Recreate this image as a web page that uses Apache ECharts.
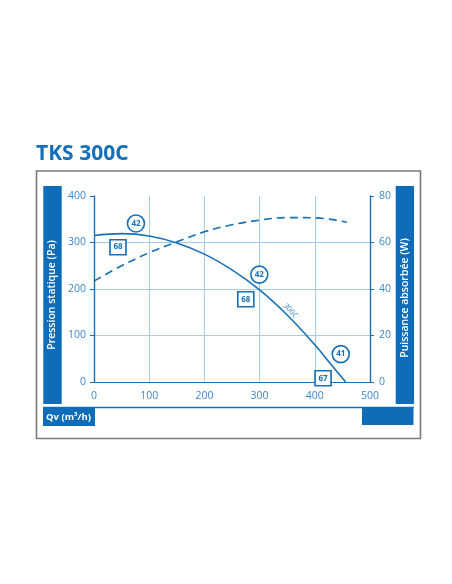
<!DOCTYPE html>
<html>
<head>
<meta charset="utf-8">
<script src="https://cdn.jsdelivr.net/npm/echarts@6/dist/echarts.min.js"></script>
<style>
html,body{margin:0;padding:0;background:#fff;}
#chart{width:452px;height:584px;}
</style>
</head>
<body>
<div id="chart"></div>
<script>
// ---- data ----
const title = 'TKS 300C';
const leftAxisName = 'Pression statique (Pa)';
const rightAxisName = 'Puissance absorbée (W)';
const xAxisName = 'Qv (m³/h)';
const curveName = '300C';

const pressureFlow = [0, 50, 100, 150, 200, 250, 300, 350, 400, 430, 456];
const pressureVals = [315, 319, 314, 299, 275, 241, 198, 144, 80, 37, 0];

const powerFlow = [0, 50, 100, 150, 200, 250, 300, 350, 400, 458];
const powerVals = [43.4, 50, 55.6, 60.3, 64.6, 67.6, 69.6, 70.7, 70.6, 68.7];

const circleFlow = [76, 299.5, 447];
const circlePressure = [341, 231, 60];
const circleLabels = ['42', '42', '41'];

const squareFlow = [43.5, 275, 415];
const squarePressure = [290, 178, 8];
const squareLabels = ['68', '68', '67'];

const curveLabelFlow = [356];
const curveLabelPressure = [153];

const xTicks = [0, 500, 100];   // min, max, interval
const yLeftTicks = [0, 400, 100];
const yRightTicks = [0, 80, 20];

// ---- styles ----
const BLUE = '#1670b8';
const BAR = '#0f6cb9';
const LABEL = '#3d88cc';
const GRID = '#a9cbe6';
const FONT = '"Open Sans", "DejaVu Sans", sans-serif';

const zip = (a, b, c) => a.map((v, i) => c ? [v, b[i], c[i]] : [v, b[i]]);

const chart = echarts.init(document.getElementById('chart'), null, {renderer: 'canvas'});

const axisLabel = {color: LABEL, fontSize: 10.5, fontFamily: FONT};

chart.setOption({
  backgroundColor: '#fff',
  animation: false,
  grid: {left: 94, right: 82, top: 196, bottom: 202},
  xAxis: {
    type: 'value', min: xTicks[0], max: xTicks[1], interval: xTicks[2],
    axisLine: {show: true, lineStyle: {color: BLUE, width: 1.2}},
    axisTick: {show: false},
    axisLabel: Object.assign({margin: 9}, axisLabel),
    splitLine: {show: true, showMinLine: false, showMaxLine: false, lineStyle: {color: GRID, width: 1}}
  },
  yAxis: [{
    type: 'value', min: yLeftTicks[0], max: yLeftTicks[1], interval: yLeftTicks[2],
    axisLine: {show: true, lineStyle: {color: BLUE, width: 1.4}},
    axisTick: {show: true, length: 4, lineStyle: {color: BLUE}},
    axisLabel: Object.assign({margin: 8}, axisLabel),
    splitLine: {show: true, showMinLine: false, showMaxLine: false, lineStyle: {color: GRID, width: 1}}
  }, {
    type: 'value', min: yRightTicks[0], max: yRightTicks[1], interval: yRightTicks[2],
    position: 'right',
    axisLine: {show: true, lineStyle: {color: BLUE, width: 1.4}},
    axisTick: {show: true, length: 4, lineStyle: {color: BLUE}},
    axisLabel: Object.assign({margin: 9}, axisLabel),
    splitLine: {show: false}
  }],
  series: [{
    type: 'line', name: 'pressure', yAxisIndex: 0, smooth: 0.4,
    showSymbol: false, data: zip(pressureFlow, pressureVals),
    lineStyle: {color: BLUE, width: 1.6}, z: 3
  }, {
    type: 'line', name: 'power', yAxisIndex: 1, smooth: 0.4,
    showSymbol: false, data: zip(powerFlow, powerVals),
    lineStyle: {color: BLUE, width: 1.6, type: [8, 5]}, z: 3
  }, {
    type: 'scatter', yAxisIndex: 0, symbol: 'circle', symbolSize: 17,
    data: zip(circleFlow, circlePressure, circleLabels),
    itemStyle: {color: '#fff', borderColor: BLUE, borderWidth: 1.6, opacity: 1},
    label: {show: true, position: 'inside', formatter: p => p.value[2],
      color: BLUE, fontSize: 8, fontWeight: 'bold', fontFamily: FONT},
    z: 5
  }, {
    type: 'scatter', yAxisIndex: 0, symbol: 'rect', symbolSize: [16, 15],
    data: zip(squareFlow, squarePressure, squareLabels),
    itemStyle: {color: '#fff', borderColor: BLUE, borderWidth: 1.6, opacity: 1},
    label: {show: true, position: 'inside', formatter: p => p.value[2],
      color: BLUE, fontSize: 8, fontWeight: 'bold', fontFamily: FONT},
    z: 5
  }, {
    type: 'scatter', yAxisIndex: 0, symbolSize: 0,
    data: zip(curveLabelFlow, curveLabelPressure),
    label: {show: true, position: 'inside', formatter: curveName, rotate: -47,
      color: BLUE, fontSize: 7.5, fontFamily: FONT},
    z: 5
  }],
  graphic: [
    {type: 'text', x: 36, y: 154, style: {text: title, fill: BLUE,
      font: 'bold 21px ' + FONT, textAlign: 'left', textVerticalAlign: 'middle'}},
    {type: 'rect', shape: {x: 36.5, y: 171, width: 384, height: 267.5},
      style: {fill: 'none', stroke: '#7a7a7a', lineWidth: 1.6}, z: 0},
    {type: 'rect', shape: {x: 43.3, y: 186, width: 18.4, height: 218},
      style: {fill: BAR}},
    {type: 'text', x: 52.5, y: 295, rotation: Math.PI / 2,
      style: {text: leftAxisName, fill: '#fff', font: '600 10.5px ' + FONT,
        textAlign: 'center', textVerticalAlign: 'middle'}},
    {type: 'rect', shape: {x: 395.7, y: 186, width: 18.3, height: 218},
      style: {fill: BAR}},
    {type: 'text', x: 405, y: 298, rotation: Math.PI / 2,
      style: {text: rightAxisName, fill: '#fff', font: '600 10.5px ' + FONT,
        textAlign: 'center', textVerticalAlign: 'middle'}},
    {type: 'line', shape: {x1: 43, y1: 407.5, x2: 414, y2: 407.5},
      style: {stroke: BLUE, lineWidth: 1.4}},
    {type: 'rect', shape: {x: 43, y: 408, width: 52, height: 18},
      style: {fill: BAR}},
    {type: 'text', x: 46, y: 417, style: {text: xAxisName, fill: '#fff',
      font: 'bold 9.5px ' + FONT, textAlign: 'left', textVerticalAlign: 'middle'}},
    {type: 'rect', shape: {x: 362, y: 407, width: 51.5, height: 18},
      style: {fill: BAR}}
  ]
});
</script>
</body>
</html>
